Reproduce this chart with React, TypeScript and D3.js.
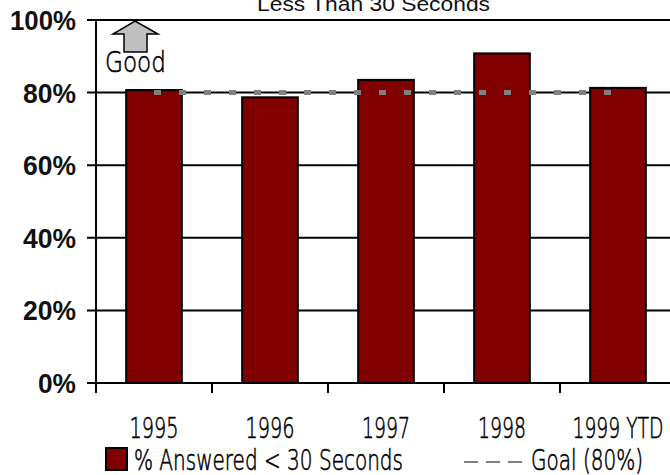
import React from 'react';
import * as d3 from 'd3';

const categories = ['1995', '1996', '1997', '1998', '1999 YTD'];
const answered = [80.7, 78.7, 83.5, 90.8, 81.3];
const goal = 80;
const yTicks = [0, 20, 40, 60, 80, 100];

const W = 670;
const H = 475;
const margin = { top: 20, left: 96, bottom: 92 };
const bandW = 116;
const narrow = '"DejaVu Sans", sans-serif';
const arial = '"Liberation Sans", Arial, sans-serif';
const thin = { fontFamily: narrow, fontWeight: 200, fill: '#000', stroke: '#000', strokeWidth: 0.6 };

// rendered widths of the condensed labels in the reference
const catWidth: Record<string, number> = { '1995': 49, '1996': 49, '1997': 48, '1998': 48, '1999 YTD': 91 };
const yLabelWidth: Record<number, number> = { 0: 38, 20: 53, 40: 53, 60: 53, 80: 53, 100: 66 };

export default function App() {
  const x = d3
    .scaleBand<string>()
    .domain(categories)
    .range([margin.left, margin.left + bandW * categories.length])
    .paddingInner(0.52)
    .paddingOuter(0.26);
  const y = d3.scaleLinear().domain([0, 100]).range([H - margin.bottom, margin.top]);
  const center = (c: string) => (x(c) ?? 0) + x.bandwidth() / 2;
  const y0 = y(0);
  const tickXs = d3.range(categories.length + 1).map((i) => margin.left + i * bandW);

  return (
    <svg width={W} height={H} style={{ position: 'absolute', left: 0, top: 0, background: '#fff' }}>
      <text x={257} y={11} fontFamily={arial} fontSize={21} fill="#111" textLength={233} lengthAdjust="spacingAndGlyphs">
        Less Than 30 Seconds
      </text>

      {/* gridlines */}
      {yTicks.map((t) => (
        <line key={t} x1={margin.left - 9} x2={W} y1={y(t)} y2={y(t)} stroke="#000" strokeWidth={2} />
      ))}
      {yTicks.map((t) => (
        <text
          key={'l' + t}
          x={76 - yLabelWidth[t]}
          y={y(t) + 10}
          fontFamily={arial}
          fontWeight="bold"
          fontSize={28}
          fill="#111"
          textLength={yLabelWidth[t]}
          lengthAdjust="spacingAndGlyphs"
        >
          {t}%
        </text>
      ))}

      {/* bars */}
      {categories.map((c, i) => (
        <rect
          key={c}
          x={x(c)}
          y={y(answered[i])}
          width={x.bandwidth()}
          height={y0 - y(answered[i])}
          fill="#800000"
          stroke="#000"
          strokeWidth={2}
        />
      ))}

      {/* goal line */}
      <line
        x1={center(categories[0])}
        x2={center(categories[categories.length - 1])}
        y1={y(goal)}
        y2={y(goal)}
        stroke="#808080"
        strokeWidth={5}
        strokeDasharray="7 18"
      />

      {/* axes */}
      <line x1={margin.left} x2={margin.left} y1={margin.top} y2={y0} stroke="#000" strokeWidth={2} />
      {tickXs.map((tx, i) => (
        <line key={'t' + i} x1={tx} x2={tx} y1={y0} y2={y0 + 10} stroke="#000" strokeWidth={2} />
      ))}
      {categories.map((c) => (
        <text
          key={'c' + c}
          x={center(c) - catWidth[c] / 2}
          y={438}
          {...thin}
          fontSize={29}
          textLength={catWidth[c]}
          lengthAdjust="spacingAndGlyphs"
        >
          {c}
        </text>
      ))}

      {/* Good arrow */}
      <path
        d="M135,21 L158,34 L147,34 L147,52 L124,52 L124,34 L113,34 Z"
        fill="#c0c0c0"
        stroke="#000"
        strokeWidth={1.5}
      />
      <text x={105} y={72} {...thin} fontSize={29} textLength={61} lengthAdjust="spacingAndGlyphs">
        Good
      </text>

      {/* legend */}
      <rect x={106} y={448} width={21} height={22} fill="#800000" stroke="#000" strokeWidth={2} />
      <text x={134} y={470} {...thin} fontSize={28} textLength={269} lengthAdjust="spacingAndGlyphs">
        % Answered &lt; 30 Seconds
      </text>
      <line x1={464} x2={523} y1={462} y2={462} stroke="#808080" strokeWidth={2} strokeDasharray="14 8" />
      <text x={531} y={470} {...thin} fontSize={28} textLength={112} lengthAdjust="spacingAndGlyphs">
        Goal (80%)
      </text>
    </svg>
  );
}
